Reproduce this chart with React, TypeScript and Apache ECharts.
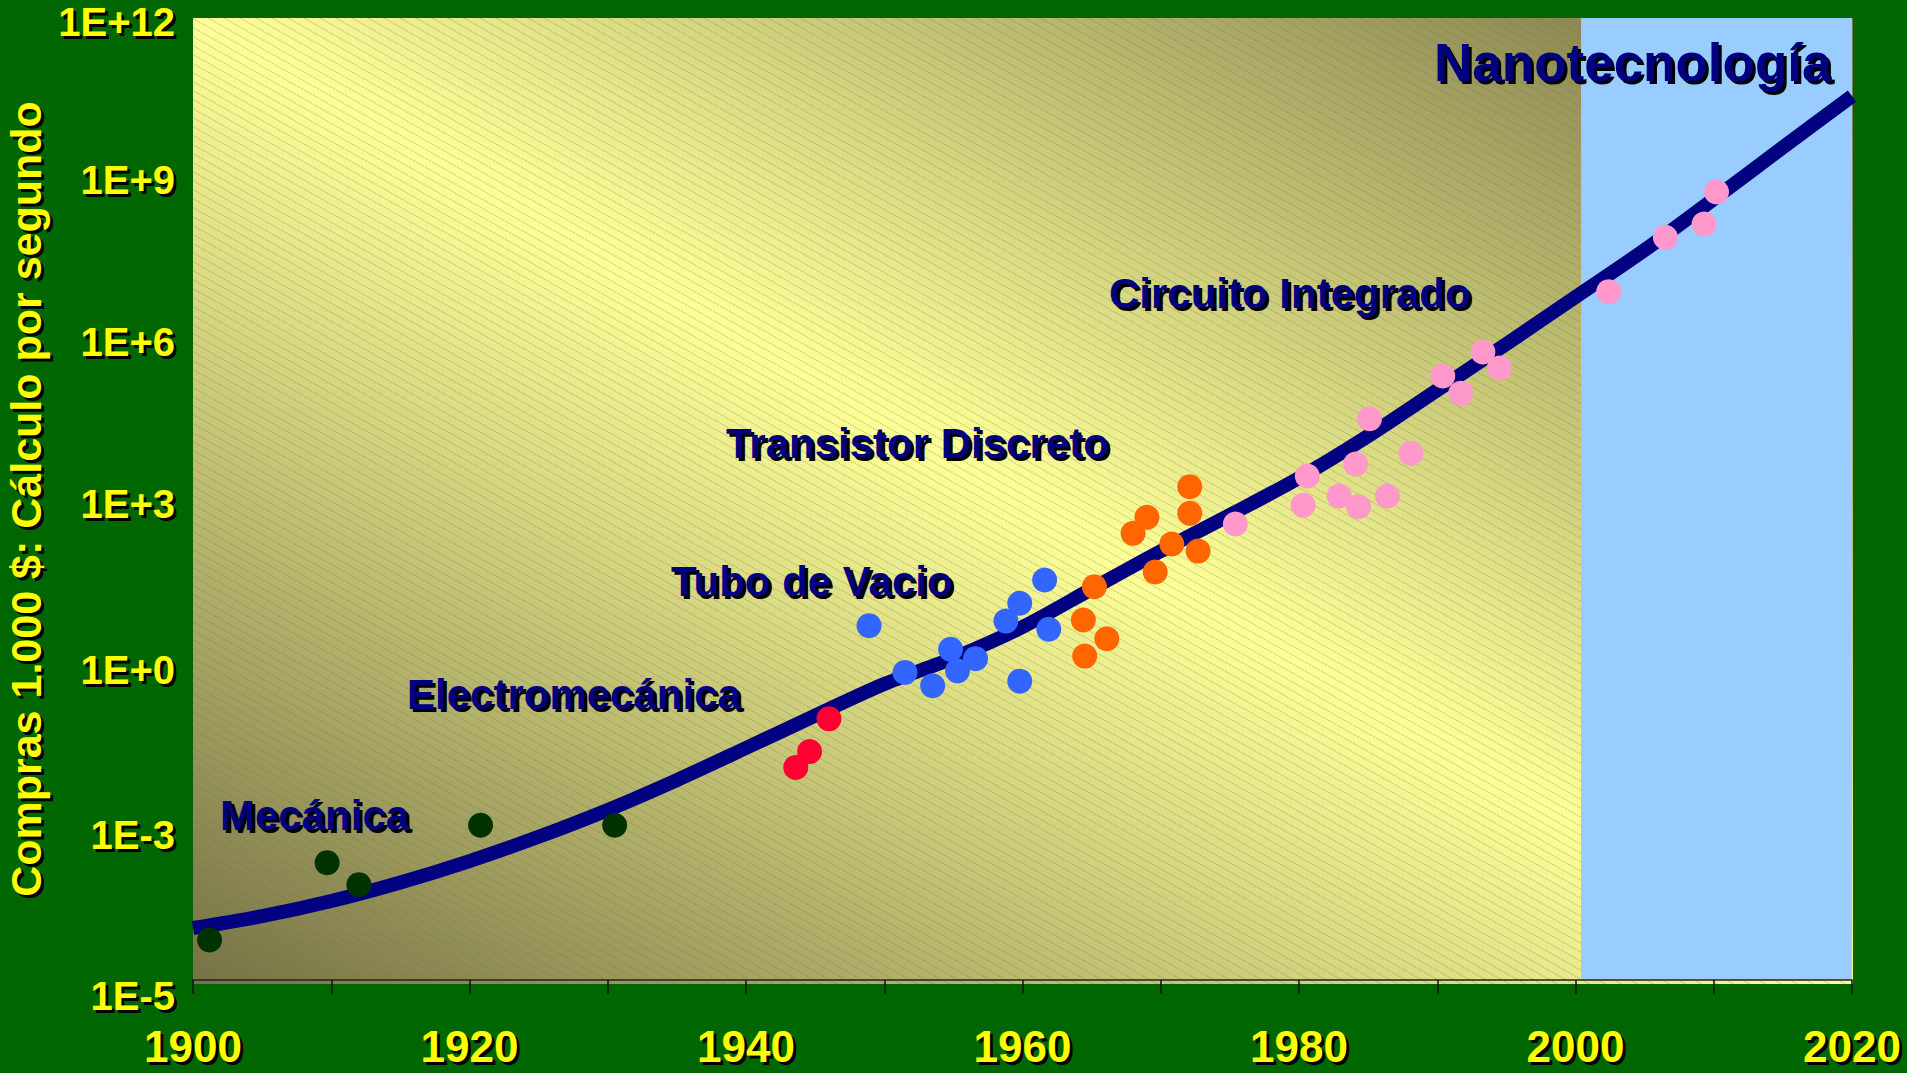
import React, { useEffect, useRef } from "react";
import * as echarts from "echarts";

// ---- tick labels (exponent of the tick -> printed label, as on the slide)
const yTickExponents = [-6, -3, 0, 3, 6, 9, 12];
const yTickLabels = ["1E-5", "1E-3", "1E+0", "1E+3", "1E+6", "1E+9", "1E+12"];

// ---- trend curve (calculations per second per $1000)
const trendYears = [1900, 1905, 1910, 1915, 1920, 1925, 1930, 1935, 1940, 1945, 1950, 1955, 1960, 1965, 1970, 1975, 1980, 1985, 1990, 1995, 2000, 2005, 2010, 2015, 2020];
const trendValues = [9.4e-6, 1.56e-5, 3.0e-5, 6.67e-5, 1.68e-4, 4.78e-4, 1.52e-3, 5.52e-3, 0.0219, 0.0885, 0.345, 1.06, 4.03, 20.7, 106, 502, 2470, 15100, 1.09e5, 7.94e5, 6.02e6, 4.56e7, 4.1e8, 3.78e9, 3.47e10];

// ---- machines by technology
const mecanicaYears = [1901.2, 1909.7, 1912.0, 1920.8, 1930.5];
const mecanicaValues = [5.6e-6, 1.57e-4, 6.07e-5, 7.85e-4, 7.85e-4];

const electroYears = [1943.6, 1944.6, 1946.0];
const electroValues = [9.5e-3, 0.0188, 0.077];

const tuboYears = [1948.9, 1951.5, 1953.5, 1954.8, 1955.3, 1956.6, 1958.8, 1959.8, 1961.6, 1961.9, 1959.8];
const tuboValues = [4.26, 0.57, 0.32, 1.54, 0.61, 1.03, 5.2, 11.2, 30.5, 3.65, 0.39];

const transistorYears = [1965.2, 1964.4, 1966.1, 1964.5, 1968.0, 1969.0, 1969.6, 1970.8, 1972.1, 1972.1, 1972.7];
const transistorValues = [22.9, 5.44, 2.43, 1.15, 228, 454, 43, 144, 1700, 540, 106];

const circuitoYears = [1975.4, 1980.3, 1980.6, 1982.9, 1984.1, 1984.3, 1985.1, 1986.4, 1988.1, 1990.4, 1991.7, 1993.3, 1994.5, 2002.4, 2006.5, 2009.3, 2010.2];
const circuitoValues = [340, 762, 2690, 1140, 4520, 718, 31800, 1140, 7160, 2.0e5, 9.5e4, 5.64e5, 2.83e5, 7.57e6, 7.88e7, 1.4e8, 5.55e8];

const nanoStart = 2000.4;
const nanoEnd = 2020;

const eraLabels = ["Mecánica", "Electromecánica", "Tubo de Vacio", "Transistor Discreto", "Circuito Integrado", "Nanotecnología"];
const axisTitle = "Compras 1.000 $: Cálculo por segundo";

const FONT = '"Liberation Sans", Arial, Helvetica, sans-serif';

const pairs = (xs: number[], ys: number[]) => xs.map((x, i) => [x, ys[i]]);

export default function App() {
  const ref = useRef<HTMLDivElement>(null);

  useEffect(() => {
    document.body.style.margin = "0";
    document.body.style.background = "#006600";
    if (!ref.current) return;
    const chart = echarts.init(ref.current, null, { renderer: "svg" });

    const hatchSvg =
      "<svg xmlns='http://www.w3.org/2000/svg' width='16' height='9'>" +
      "<line x1='-2' y1='-1.125' x2='18' y2='10.125' stroke='rgba(70,140,50,0.5)' stroke-width='0.9' stroke-dasharray='1.6 0.9'/></svg>";
    const hatchUrl = "data:image/svg+xml;charset=utf-8," + encodeURIComponent(hatchSvg);

    const plot = { x: 193, y: 18, w: 1660, h: 966 };

    // layout of the era captions: left x, middle y, font size
    const labelPos: [number, number, number][] = [
      [220, 815, 42],
      [407, 694, 42],
      [671, 581, 42],
      [726, 443, 42],
      [1109, 293, 42],
      [1434, 62, 53],
    ];
    const texts: any[] = [];
    eraLabels.forEach((t, i) => {
      const [x, y, fs] = labelPos[i];
      const base = {
        text: t,
        font: `bold ${fs}px ${FONT}`,
        align: "left",
        verticalAlign: "middle",
        textAlign: "left",
        textVerticalAlign: "middle",
      };
      texts.push({ type: "text", x: x + 3, y: y + 3, z: 20, silent: true, style: { ...base, fill: "#000000" } });
      texts.push({ type: "text", x, y, z: 21, silent: true, style: { ...base, fill: "#000080" } });
    });

    // vertical nudge of each y tick label (px, downwards), as placed on the slide
    const yNudge = [16, 15, 11, 5, 3, 2, 4];
    const makeYRich = (extra: number, color: string) => {
      const rich: any = {
        v: { fontSize: 40, fontWeight: "bold", fontFamily: FONT, color, lineHeight: 44 },
      };
      yNudge.forEach((n, i) => {
        rich["s" + i] = { fontSize: 1, lineHeight: 2 * (n + extra) };
      });
      return rich;
    };
    const yFormatter = (v: number) => {
      const e = Math.round(Math.log10(v));
      const i = yTickExponents.indexOf(e);
      return i >= 0 ? `{s${i}| }\n{v|${yTickLabels[i]}}` : "";
    };
    const xFormatter = (shadow: boolean) => (v: number) => {
      const r = Math.round(v);
      if (r % 20 !== 0) return "";
      return shadow ? `{h| }{v|${r}}` : `{v|${r}}`;
    };
    const xRich = (color: string) => ({
      v: { fontSize: 44, fontWeight: "bold", fontFamily: FONT, color },
      h: { width: 6, fontSize: 1 },
    });

    const scatter = (name: string, xs: number[], ys: number[], color: string) => ({
      name,
      type: "scatter",
      data: pairs(xs, ys),
      symbolSize: 25,
      itemStyle: { color, opacity: 1 },
      z: 4,
      silent: true,
    });

    const baseX = {
      type: "value",
      position: "bottom",
      min: 1900,
      max: 2020,
      interval: 10,
      splitLine: { show: false },
    };
    const baseY = {
      type: "log",
      position: "left",
      logBase: 10,
      min: 1e-6,
      max: 1e12,
      interval: 3,
      axisLine: { show: false },
      axisTick: { show: false },
      splitLine: { show: false },
      nameLocation: "middle",
      nameRotate: 90,
    };

    chart.setOption({
      animation: false,
      backgroundColor: "#006600",
      grid: {
        left: 193,
        right: 1907 - 1852,
        top: 18,
        bottom: 1073 - 980,
        containLabel: false,
        outerBoundsMode: "none",
      },
      xAxis: [
        {
          ...baseX,
          z: 2,
          axisLine: { show: true, onZero: false, lineStyle: { color: "#222222", width: 1.5 } },
          axisTick: { show: true, length: 14, lineStyle: { color: "#111111", width: 1.5 } },
          axisLabel: { formatter: xFormatter(false), rich: xRich("#FFFF00"), margin: 44 },
        },
        {
          ...baseX,
          z: 1,
          axisLine: { show: false, onZero: false },
          axisTick: { show: false },
          axisLabel: { formatter: xFormatter(true), rich: xRich("#000000"), margin: 47 },
        },
      ],
      yAxis: [
        {
          ...baseY,
          z: 2,
          axisLabel: { formatter: yFormatter, rich: makeYRich(0, "#FFFF00"), margin: 18 },
          name: axisTitle,
          nameGap: 131,
          nameTextStyle: { color: "#FFFF00", fontSize: 43, fontWeight: "bold", fontFamily: FONT },
        },
        {
          ...baseY,
          z: 1,
          axisLabel: { formatter: yFormatter, rich: makeYRich(3, "#000000"), margin: 15 },
          name: `{v|${axisTitle}}{h| }`,
          nameGap: 128,
          nameTextStyle: {
            rich: {
              v: { color: "#000000", fontSize: 43, fontWeight: "bold", fontFamily: FONT },
              h: { width: 6, fontSize: 1 },
            },
          },
        },
      ],
      graphic: [
        {
          type: "rect",
          z: -20,
          silent: true,
          shape: { x: plot.x, y: plot.y, width: plot.w, height: plot.h },
          style: {
            fill: new echarts.graphic.LinearGradient(0, 1, 1, 0, [
              { offset: 0, color: "#777146" },
              { offset: 0.5, color: "#FFFF99" },
              { offset: 1, color: "#777146" },
            ]),
          },
        },
        {
          type: "rect",
          z: -19,
          silent: true,
          shape: { x: plot.x, y: plot.y, width: plot.w, height: plot.h },
          style: { fill: { image: hatchUrl, repeat: "repeat", imageWidth: 16, imageHeight: 9 } },
        },
        ...texts,
      ],
      series: [
        {
          name: "nano",
          type: "scatter",
          data: [],
          z: 1,
          silent: true,
          markArea: {
            silent: true,
            itemStyle: { color: "#99CCFF", opacity: 1 },
            data: [[{ xAxis: nanoStart }, { xAxis: nanoEnd }]],
          },
        },
        {
          name: "tendencia",
          type: "line",
          data: pairs(trendYears, trendValues),
          smooth: 0.3,
          showSymbol: false,
          symbol: "none",
          lineStyle: { color: "#000080", width: 14 },
          z: 3,
          silent: true,
        },
        scatter("Mecánica", mecanicaYears, mecanicaValues, "#003300"),
        scatter("Electromecánica", electroYears, electroValues, "#FF0033"),
        scatter("Tubo de Vacio", tuboYears, tuboValues, "#3366FF"),
        scatter("Transistor Discreto", transistorYears, transistorValues, "#FF6600"),
        scatter("Circuito Integrado", circuitoYears, circuitoValues, "#FF99CC"),
      ],
    });

    return () => chart.dispose();
  }, []);

  return <div ref={ref} style={{ width: 1907, height: 1073, background: "#006600" }} />;
}
